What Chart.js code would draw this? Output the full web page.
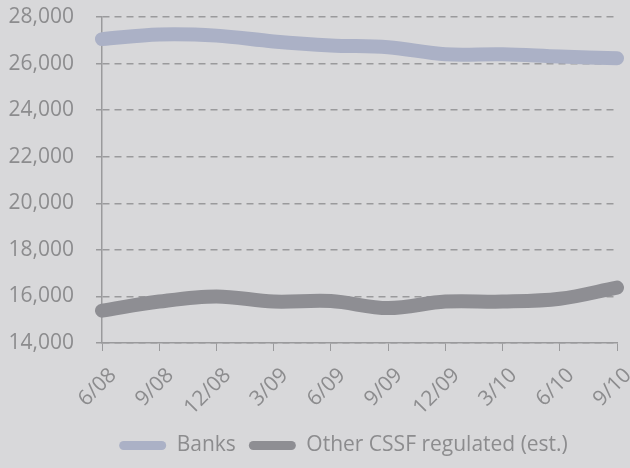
<!DOCTYPE html>
<html>
<head>
<meta charset="utf-8">
<script src="https://cdn.jsdelivr.net/npm/chart.js@4"></script>
<style>
  body { margin: 0; background: #d8d8da; }
  #wrap { width: 630px; height: 468px; }
</style>
</head>
<body>
<div id="wrap"><canvas id="chart"></canvas></div>
<script>
var labels = ['6/08', '9/08', '12/08', '3/09', '6/09', '9/09', '12/09', '3/10', '6/10', '9/10'];
var banks = [27050, 27250, 27200, 26950, 26780, 26700, 26400, 26400, 26300, 26230];
var otherCssf = [15390, 15780, 16000, 15780, 15800, 15500, 15780, 15780, 15900, 16380];
var yTicks = [14000, 16000, 18000, 20000, 22000, 24000, 26000, 28000];

var textColor = '#8c8c8e';
var gridColor = '#9a9a9c';

var bgPlugin = {
  id: 'bg',
  beforeDraw: function(chart) {
    var ctx = chart.ctx;
    ctx.save();
    ctx.fillStyle = '#d8d8da';
    ctx.fillRect(0, 0, chart.width, chart.height);
    ctx.restore();
  },
  afterLayout: function(chart) {
    // legend sits a bit right of centre in the original
    chart.legend.left += 35;
    chart.legend.right += 35;
  }
};

new Chart(document.getElementById('chart').getContext('2d'), {
  type: 'line',
  data: {
    labels: labels,
    datasets: [
      {
        label: 'Banks',
        data: banks,
        borderColor: '#abb1c6',
        backgroundColor: '#abb1c6',
        borderWidth: 14,
        borderCapStyle: 'round',
        borderJoinStyle: 'round',
        pointRadius: 0,
        tension: 0.35,
        fill: false
      },
      {
        label: 'Other CSSF regulated (est.)',
        data: otherCssf,
        borderColor: '#8e8e93',
        backgroundColor: '#8e8e93',
        borderWidth: 14,
        borderCapStyle: 'round',
        borderJoinStyle: 'round',
        pointRadius: 0,
        tension: 0.35,
        fill: false
      }
    ]
  },
  options: {
    responsive: true,
    maintainAspectRatio: false,
    animation: false,
    layout: { padding: { top: 17, right: 13, bottom: 2, left: 0 } },
    plugins: {
      legend: {
        position: 'bottom',
        labels: {
          color: textColor,
          font: { family: 'Open Sans', size: 21 },
          boxWidth: 47,
          boxHeight: 9,
          useBorderRadius: true,
          borderRadius: 4.5,
          padding: 13,
          generateLabels: function(chart) {
            return Chart.defaults.plugins.legend.labels.generateLabels(chart).map(function(item) {
              item.lineWidth = 0;
              return item;
            });
          }
        }
      },
      tooltip: { enabled: false }
    },
    scales: {
      x: {
        offset: false,
        grid: {
          drawOnChartArea: false,
          drawTicks: true,
          tickLength: 8,
          color: gridColor
        },
        border: { color: gridColor, width: 1.5 },
        ticks: {
          color: textColor,
          font: { family: 'Open Sans', size: 21 },
          minRotation: 45,
          maxRotation: 45,
          padding: 12,
          labelOffset: 11
        },
        afterFit: function(scale) {
          scale.height = 79;
          scale.paddingLeft = 0;
          scale.paddingRight = 0;
        }
      },
      y: {
        min: 14000,
        max: 28000,
        afterBuildTicks: function(scale) {
          scale.ticks = yTicks.map(function(v) { return { value: v }; });
        },
        grid: {
          color: gridColor,
          lineWidth: 1.5,
          drawTicks: true,
          tickLength: 6,
          tickColor: gridColor
        },
        border: { color: gridColor, width: 1.5, dash: [7, 5] },
        ticks: {
          color: textColor,
          font: { family: 'Open Sans', size: 21 },
          padding: 22,
          callback: function(v) { return v.toLocaleString('en-US'); }
        },
        afterFit: function(scale) {
          scale.width = 102;
          scale.paddingTop = 0;
          scale.paddingBottom = 0;
        }
      }
    }
  },
  plugins: [bgPlugin]
});
</script>
</body>
</html>
